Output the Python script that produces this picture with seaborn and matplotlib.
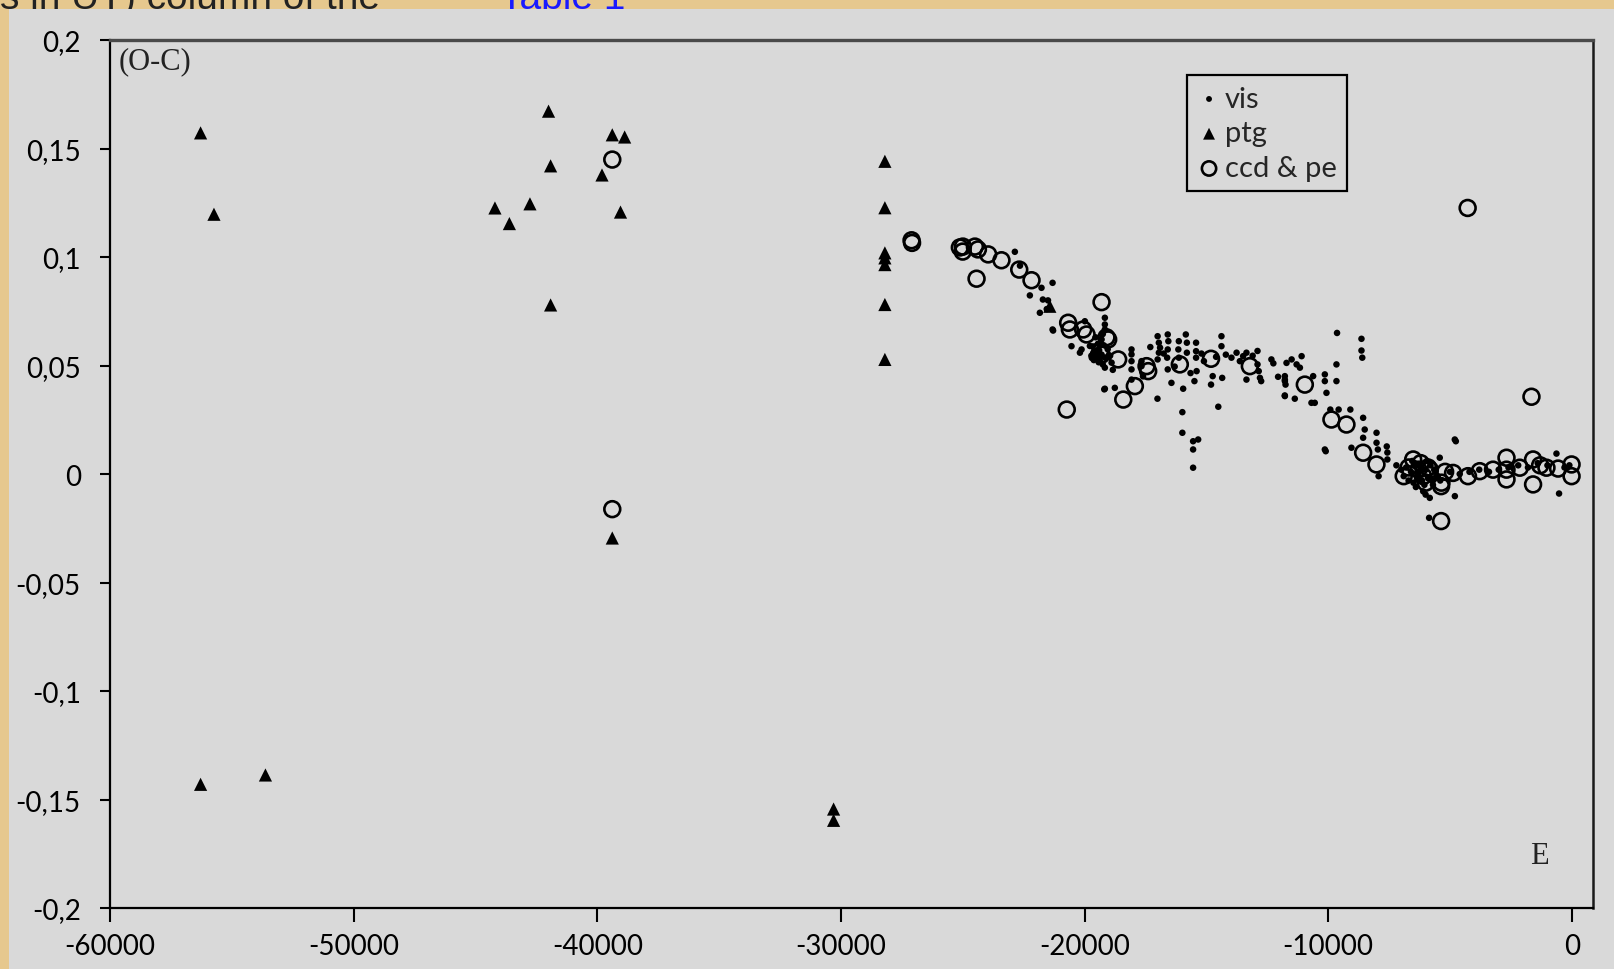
import numpy as np
import pandas as pd
import seaborn as sns
import matplotlib.pyplot as plt
from matplotlib.patches import Rectangle
from matplotlib.ticker import FuncFormatter

# ptg (photographic) timings
ptg_E = [-56282, -55733, -56282, -53620,
         -44200, -43607, -42763, -42000, -41915, -41915,
         -39806, -39384, -38876, -39046, -39384,
         -30300, -30300,
         -28195, -28195, -28195, -28195, -28195, -28195, -28195,
         -21424]
ptg_OC = [0.1572, 0.1197, -0.143, -0.1387,
          0.1226, 0.1154, 0.1245, 0.1672, 0.142, 0.0779,
          0.1378, 0.1563, 0.1553, 0.1207, -0.0295,
          -0.1544, -0.1596,
          0.1441, 0.1227, 0.1019, 0.0996, 0.0965, 0.0781, 0.0528,
          0.0773]

# ccd & pe timings
ccd_E = [-39384, -39384,
         -27100, -27080,
         -25117, -25000, -24994, -24500, -24377,
         -24432, -23955, -23410, -22680, -22176,
         -20730, -20672, -20602, -20056, -19918,
         -19302, -19030, -19100, -19350, -19300, -18620, -18410, -17935, -17388, -17455,
         -16089, -14808, -13215, -10958, -9866, -9250, -8565, -8018, -6510, -5365, -5365,
         -4275, -1656,
         -6900, -6700, -6300, -6200, -6100, -6000, -5900, -5829, -5350, -5200,
         -4873, -4261, -3778, -3233, -2680, -2680, -2680, -2135, -1590, -1590,
         -1300, -1040, -563, -10, -10]
ccd_OC = [0.1449, -0.0162,
          0.1077, 0.1065,
          0.1044, 0.1025, 0.1048, 0.1048, 0.1035,
          0.090, 0.1012, 0.0985, 0.0942, 0.0893,
          0.0297, 0.0697, 0.0666, 0.0666, 0.0643,
          0.0792, 0.062, 0.063, 0.057, 0.055, 0.0528, 0.0343, 0.0405, 0.0474, 0.0497,
          0.0505, 0.0531, 0.0497, 0.0412, 0.0251, 0.0228, 0.0098, 0.0044, 0.0067, -0.0056, -0.0217,
          0.1226, 0.0356,
          -0.001, 0.003, 0.002, 0.005, -0.001, -0.004, 0.003, 0.002, -0.004, 0.001,
          0.0005, -0.001, 0.0013, 0.002, 0.0075, -0.0025, 0.002, 0.0029, 0.0067, -0.0048,
          0.004, 0.0029, 0.0025, 0.0044, -0.001]

# visual timings
vis_E = [-22860, -22650, -22244, -21766, -21710, -21834, -21312, -21312, -21500, -21550,
         -21290, -20535, -20190, -19986, -20122, -19645, -19371, -19166, -18890, -19166,
         -19660, -19600, -19500, -19400, -19300, -19166, -19166, -19166, -19166, -18757,
         -19300, -19250, -19450, -19550, -19780, -19190, -18840,
         -19700, -19620, -19520, -19420, -19350, -19250, -19720, -19480, -19050, -18950,
         -18072, -18072, -18072, -18072, -18072, -17662, -17662, -17600,
         -17000, -16950, -16900, -16950, -17000, -17007,
         -16585, -16560, -16585, -16610, -16585, -16433, -15952,
         -16130, -16150, -16130, -15843, -15800, -15800,
         -15985, -15985, -15544, -15336, -15544, -15544,
         -15489, -15422, -15422, -15422, -15400,
         -14808, -14740, -14510, -14380, -14380, -14350,
         -15100, -15200, -14600, -14200, -16750, -16300, -17300, -15650,
         -13970, -13760, -13625, -13490, -13354, -13354,
         -13100, -12900, -12900, -12850, -12800, -12750,
         -12330, -12250, -12056, -11778, -11750, -11778,
         -11710, -11500, -11296, -11090, -11160, -11778, -11778,
         -10616, -10137, -10137, -10070, -11780, -11370, -10686, -10550,
         -9660, -9660, -9636, -8633, -8633, -8600,
         -10137, -10100, -9912, -9570, -9090, -8565, -8500, -8565,
         -8015, -8015, -7960, -7595, -7570, -7570, -9045, -7930,
         -7200, -7000, -6900, -6800, -6700, -6600, -6500, -6450, -6400, -6300,
         -6200, -6150, -6100, -6000, -5900, -5800, -5700, -5600, -5500, -5420, -5400,
         -6550, -6350, -6250, -6050, -5950, -5750, -5650,
         -4803, -4760, -4800, -5830, -5857, -6000,
         -5000, -4600, -4200, -3800, -3400, -3000, -2600, -2200, -1800, -1400,
         -1000, -630, -523, -300, -100]
vis_OC = [0.1024, 0.096, 0.0823, 0.0858, 0.0804, 0.0743, 0.0881, 0.0666, 0.080, 0.076,
          0.0661, 0.0589, 0.0559, 0.0704, 0.0574, 0.0558, 0.052, 0.0536, 0.0513, 0.049,
          0.0588, 0.056, 0.054, 0.057, 0.055, 0.072, 0.0689, 0.0666, 0.0393, 0.0397,
          0.062, 0.0645, 0.060, 0.063, 0.059, 0.039, 0.048,
          0.0535, 0.0525, 0.0565, 0.0515, 0.0595, 0.0505, 0.0545, 0.0555, 0.0575, 0.0545,
          0.0574, 0.0551, 0.0482, 0.0435, 0.052, 0.052, 0.0497, 0.045,
          0.0635, 0.0605, 0.0582, 0.0559, 0.0528, 0.0347,
          0.0643, 0.0612, 0.0574, 0.0536, 0.0482, 0.042, 0.0393,
          0.0612, 0.0574, 0.0536, 0.0643, 0.0605, 0.0559,
          0.0285, 0.019, 0.0151, 0.0159, 0.0113, 0.0029,
          0.0428, 0.0605, 0.0566, 0.0536, 0.0474,
          0.0412, 0.0451, 0.031, 0.0635, 0.0589, 0.0443,
          0.052, 0.0555, 0.054, 0.055, 0.0555, 0.0495, 0.0585, 0.0465,
          0.0536, 0.0559, 0.052, 0.0543, 0.0559, 0.0435,
          0.0545, 0.0567, 0.0505, 0.0474, 0.0443, 0.0428,
          0.0528, 0.051, 0.0448, 0.0435, 0.0412, 0.0359,
          0.0512, 0.0528, 0.0505, 0.0543, 0.049, 0.0451, 0.0428,
          0.0451, 0.0459, 0.0428, 0.0374, 0.0362, 0.0347, 0.0328, 0.0328,
          0.0505, 0.0428, 0.065, 0.0623, 0.0569, 0.0536,
          0.0113, 0.0105, 0.0297, 0.0297, 0.0297, 0.0259, 0.0205, 0.0167,
          0.019, 0.0144, 0.0113, 0.0127, 0.0099, 0.0067, 0.0121, -0.001,
          0.004, 0.002, -0.001, 0.003, -0.003, 0.001, -0.004, 0.005, -0.006, 0.000,
          0.003, -0.003, -0.008, 0.002, -0.002, 0.004, -0.005, 0.001, -0.001, 0.0075, -0.003,
          0.006, -0.002, 0.004, -0.005, 0.006, -0.003, 0.002,
          0.0159, 0.0151, -0.0102, -0.011, -0.0202, -0.0095,
          0.001, 0.000, 0.001, 0.002, 0.001, 0.002, 0.003, 0.004, 0.003, 0.005,
          0.004, 0.0094, -0.009, 0.003, 0.004]

vis = pd.DataFrame({'E': vis_E, 'OC': vis_OC})
ptg = pd.DataFrame({'E': ptg_E, 'OC': ptg_OC})
ccd = pd.DataFrame({'E': ccd_E, 'OC': ccd_OC})

sns.set_style('white')
panel = '#d9d9d9'

fig = plt.figure(figsize=(16.14, 9.70), dpi=100, facecolor='#e6c88e')
# page text partly hidden behind the chart panel
fig.text(0.0, 1 - 9 / 970, 's in UT) column of the ', fontsize=28,
         family='Liberation Sans', color='#222222', va='baseline', zorder=0)
fig.text(500 / 1614, 1 - 9 / 970, 'Table 1', fontsize=28,
         family='Liberation Sans', color='#1a1aff', va='baseline', zorder=0)
fig.patches.append(Rectangle((9 / 1614, 0), 1, 1 - 10 / 970, transform=fig.transFigure,
                             facecolor=panel, edgecolor='none', zorder=1))

ax = fig.add_axes([110 / 1614, 61 / 970, 1483 / 1614, 868 / 970])
ax.set_zorder(2)
ax.set_facecolor(panel)

sns.scatterplot(data=vis, x='E', y='OC', marker='o', s=22, color='black',
                edgecolor='none', label='vis', ax=ax)
sns.scatterplot(data=ptg, x='E', y='OC', marker='^', s=90, color='black',
                edgecolor='none', label='ptg', ax=ax)
sns.scatterplot(data=ccd, x='E', y='OC', marker='o', s=130, facecolors='none',
                edgecolor='black', linewidth=1.9, label='ccd & pe', ax=ax)

ax.set_xlim(-60000, 870)
ax.set_ylim(-0.2, 0.2)
ax.set_xticks(np.arange(-60000, 1, 10000))
ax.set_yticks(np.arange(-0.2, 0.201, 0.05))


def ytick_fmt(v, p):
    v = round(v, 2)
    if abs(v) < 1e-9:
        return '0'
    return f"{v:g}".replace('.', ',')


ax.xaxis.set_major_formatter(FuncFormatter(lambda v, p: f"{int(round(v))}"))
ax.yaxis.set_major_formatter(FuncFormatter(ytick_fmt))
ax.set_xlabel('')
ax.set_ylabel('')

ax.tick_params(axis='x', direction='out', length=10, width=1.5, pad=8, color='black',
               bottom=True, labelsize=20, labelcolor='black')
ax.tick_params(axis='y', direction='out', length=7, width=1.5, pad=14, color='black',
               left=True, labelsize=20, labelcolor='black')
for lab in ax.get_xticklabels() + ax.get_yticklabels():
    lab.set_family('Lato')

for side in ['left', 'bottom']:
    ax.spines[side].set_color('black')
    ax.spines[side].set_linewidth(1.6)
ax.spines['top'].set_color('#4a4a4a')
ax.spines['top'].set_linewidth(2.4)
ax.spines['right'].set_color('#1a1a1a')
ax.spines['right'].set_linewidth(1.8)

ax.text(0.006, 0.976, '(O-C)', transform=ax.transAxes, ha='left', va='center',
        fontsize=22, family='Liberation Serif', color='#222222')
ax.text(0.9636, 0.061, 'E', transform=ax.transAxes, ha='center', va='center',
        fontsize=22, family='Liberation Serif', color='#222222')

leg = ax.legend(loc='upper left', bbox_to_anchor=(0.7165, 0.976), frameon=True,
                fancybox=False, facecolor=panel, edgecolor='black', framealpha=1,
                prop={'family': 'Lato', 'size': 21}, handletextpad=0.15,
                handlelength=0.8, labelspacing=0.3, borderpad=0.35,
                markerscale=0.9)
leg.get_frame().set_linewidth(1.6)

fig.savefig('out.png', dpi=100, facecolor=fig.get_facecolor())
